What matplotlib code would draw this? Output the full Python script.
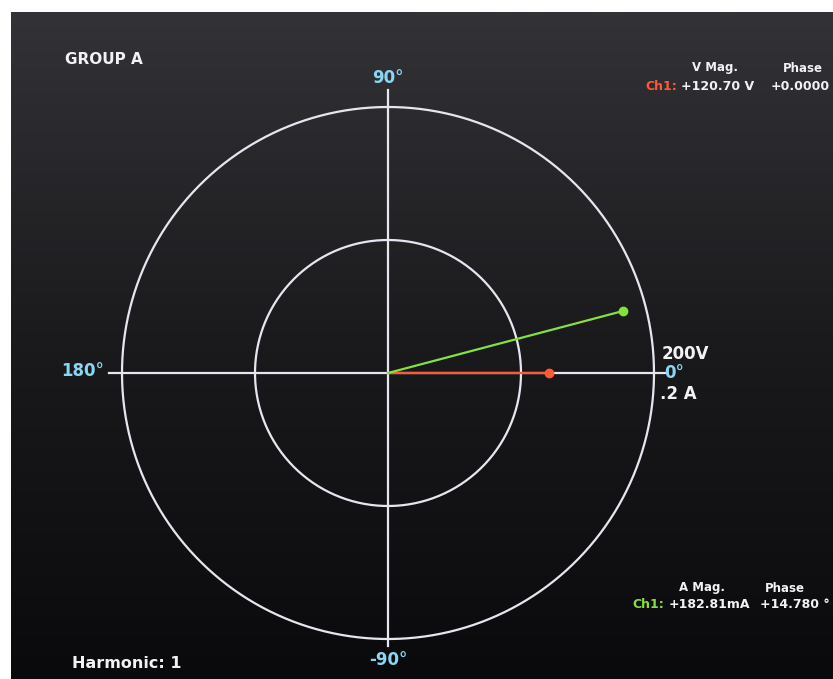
import numpy as np
import matplotlib
matplotlib.use('Agg')
import matplotlib.pyplot as plt

# phasor readings (channel 1, harmonic 1)
v_mag = 120.70      # V
v_phase = 0.0       # deg
a_mag = 182.81      # mA
a_phase = 14.780    # deg

v_full = 200.0      # V at outer ring
a_full = 0.2        # A at outer ring
rings = [0.5, 1.0]
axis_labels = ['0°', '90°', '180°', '-90°']

W, H = 833, 679
CX, CY, R = 388, 373, 266   # centre / outer radius in pixels

BG_TOP = '#333337'
BG_BOT = '#0a0a0c'
LINE = '#e6e6f0'
CYAN = '#8ad6f2'
RED = '#ff5a36'
GREEN = '#86e040'
WHITE = '#f2f2f6'


def fx(x):
    return x / W


def fy(y):
    return 1 - y / H


fig = plt.figure(figsize=(W / 100, H / 100), dpi=100)
fig.patch.set_facecolor('white')

# screen background with a little vertical shading
bg = fig.add_axes([fx(11), 0, 1 - fx(11), fy(12)])
grad = np.linspace(0, 1, 256).reshape(-1, 1)
cmap = matplotlib.colors.LinearSegmentedColormap.from_list('scr', [BG_TOP, '#1a1a1d', BG_BOT])
bg.imshow(grad, aspect='auto', cmap=cmap, extent=[0, 1, 0, 1], origin='upper')
bg.set_axis_off()

# phasor axes, unit = outer ring
ax = fig.add_axes([0, 0, 1, 1])
ax.set_xlim(-CX / R, (W - CX) / R)
ax.set_ylim(-(H - CY) / R, CY / R)
ax.set_axis_off()
ax.patch.set_alpha(0)

t = np.linspace(0, 2 * np.pi, 400)
for r in rings:
    ax.plot(r * np.cos(t), r * np.sin(t), color=LINE, lw=1.6)
ax.plot([-1.05, 1.04], [0, 0], color=LINE, lw=1.6)
ax.plot([0, 0], [-1.025, 1.065], color=LINE, lw=1.6)

# phasors
vr = v_mag / v_full
ar = a_mag / 1000 / a_full
vx, vy = vr * np.cos(np.radians(v_phase)), vr * np.sin(np.radians(v_phase))
axx, ayy = ar * np.cos(np.radians(a_phase)), ar * np.sin(np.radians(a_phase))
ax.plot([0, vx], [0, vy], color=RED, lw=1.6)
ax.plot([vx], [vy], 'o', color=RED, ms=6)
ax.plot([0, axx], [0, ayy], color=GREEN, lw=1.6)
ax.plot([axx], [ayy], 'o', color=GREEN, ms=6)

bold = dict(fontweight='bold', family='DejaVu Sans')

# axis angle labels and scale
fig.text(fx(388), fy(78), axis_labels[1], color=CYAN, fontsize=12, ha='center', va='center', **bold)
fig.text(fx(104), fy(371), axis_labels[2], color=CYAN, fontsize=12, ha='right', va='center', **bold)
fig.text(fx(388), fy(660), axis_labels[3], color=CYAN, fontsize=12, ha='center', va='center', **bold)
fig.text(fx(664), fy(373), axis_labels[0], color=CYAN, fontsize=12, ha='left', va='center', **bold)
fig.text(fx(662), fy(354), f'{v_full:.0f}V', color=WHITE, fontsize=12, ha='left', va='center', **bold)
fig.text(fx(660), fy(394), f'{a_full:.1f}'.lstrip('0') + ' A', color=WHITE, fontsize=12,
         ha='left', va='center', **bold)

fig.text(fx(65), fy(60), 'GROUP A', color=WHITE, fontsize=11, ha='left', va='center', **bold)
fig.text(fx(72), fy(663), 'Harmonic: 1', color=WHITE, fontsize=11.5, ha='left', va='center', **bold)

# voltage readout
fig.text(fx(715), fy(68), 'V Mag.', color=WHITE, fontsize=8.5, ha='center', va='center', **bold)
fig.text(fx(803), fy(68), 'Phase', color=WHITE, fontsize=8.5, ha='center', va='center', **bold)
fig.text(fx(645), fy(86), 'Ch1:', color=RED, fontsize=9, ha='left', va='center', **bold)
fig.text(fx(681), fy(86), f'{v_mag:+.2f} V', color=WHITE, fontsize=9, ha='left', va='center', **bold)
fig.text(fx(830), fy(86), f'{v_phase:+.4f}', color=WHITE, fontsize=9, ha='right', va='center', **bold)

# current readout
fig.text(fx(702), fy(588), 'A Mag.', color=WHITE, fontsize=8.5, ha='center', va='center', **bold)
fig.text(fx(785), fy(588), 'Phase', color=WHITE, fontsize=8.5, ha='center', va='center', **bold)
fig.text(fx(632), fy(605), 'Ch1:', color=GREEN, fontsize=9, ha='left', va='center', **bold)
fig.text(fx(669), fy(605), f'{a_mag:+.2f}mA', color=WHITE, fontsize=9, ha='left', va='center', **bold)
fig.text(fx(830), fy(605), f'{a_phase:+.3f} °', color=WHITE, fontsize=9, ha='right', va='center', **bold)

fig.savefig('out.png', dpi=100, facecolor=fig.get_facecolor())
